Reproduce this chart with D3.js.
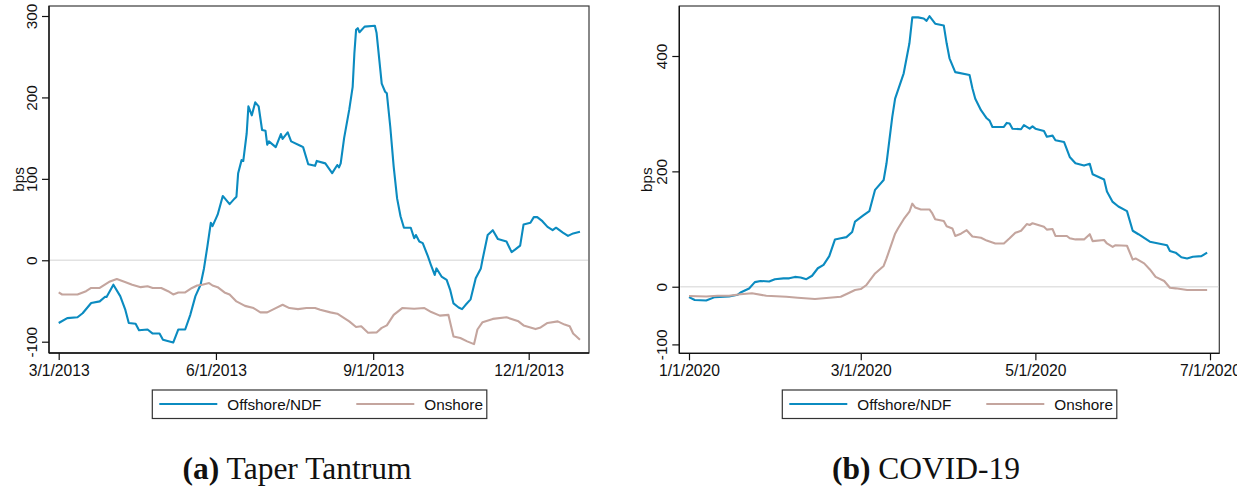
<!DOCTYPE html>
<html>
<head>
<meta charset="utf-8">
<script src="https://cdn.jsdelivr.net/npm/d3@7"></script>
<style>
  html, body { margin: 0; padding: 0; background: #fff; }
  svg { display: block; }
  .tick text, .lbl { font-family: "Liberation Sans", Arial, Helvetica, sans-serif; }
</style>
</head>
<body>
<svg id="fig" width="1249" height="489"></svg>
<script>
// ---- Series names and colours ----
const seriesNames = ["Offshore/NDF", "Onshore"];
const seriesColors = ["#0b8bc0", "#c4a59e"];

// ---- Panel (a): Taper Tantrum, 2013 ----
const taperOffDates = ["2013-03-01","2013-03-06","2013-03-12","2013-03-15","2013-03-20","2013-03-25","2013-03-28","2013-03-29","2013-04-02","2013-04-06","2013-04-09","2013-04-11","2013-04-15","2013-04-17","2013-04-22","2013-04-25","2013-04-29","2013-05-01","2013-05-07","2013-05-10","2013-05-14","2013-05-17","2013-05-20","2013-05-23","2013-05-25","2013-05-27","2013-05-29","2013-05-30","2013-06-02","2013-06-05","2013-06-09","2013-06-12","2013-06-13","2013-06-14","2013-06-16","2013-06-17","2013-06-19","2013-06-20","2013-06-22","2013-06-24","2013-06-26","2013-06-28","2013-06-30","2013-07-01","2013-07-02","2013-07-06","2013-07-09","2013-07-10","2013-07-13","2013-07-15","2013-07-21","2013-07-22","2013-07-25","2013-07-29","2013-07-30","2013-08-04","2013-08-08","2013-08-11","2013-08-12","2013-08-13","2013-08-15","2013-08-18","2013-08-20","2013-08-21","2013-08-22","2013-08-23","2013-08-24","2013-08-27","2013-09-02","2013-09-03","2013-09-06","2013-09-08","2013-09-09","2013-09-11","2013-09-13","2013-09-15","2013-09-17","2013-09-19","2013-09-23","2013-09-25","2013-09-26","2013-09-28","2013-09-30","2013-10-03","2013-10-05","2013-10-07","2013-10-08","2013-10-11","2013-10-14","2013-10-16","2013-10-18","2013-10-21","2013-10-23","2013-10-25","2013-10-28","2013-10-31","2013-11-03","2013-11-04","2013-11-07","2013-11-10","2013-11-13","2013-11-18","2013-11-21","2013-11-23","2013-11-26","2013-11-28","2013-12-02","2013-12-04","2013-12-06","2013-12-09","2013-12-12","2013-12-15","2013-12-17","2013-12-19","2013-12-21","2013-12-24","2013-12-27","2013-12-31"];
const taperOffValues = [-77,-71,-70,-65,-52.5,-50.5,-45,-45,-30,-44,-61,-77,-78,-86,-85,-90,-90,-97.5,-101,-85,-85,-67,-44,-30,-10,17,46,42,56,79,69,76,78,107,123,122,156,189,178,194,189,160,159,142,146,139,155,149,157,146,140,139,118,116,122,119,107,117,114,119,150,185,213,254,283,285,280,287,288,279,217,207,205,164,115,76,54,40,40,27,31,23,21,5,-7,-18,-10,-20,-24,-36,-53,-58,-60,-55,-48,-22,-10,1,31,37,26,23,10,13,18,44,46,53,53,48,41,37,40,37,34,30,33,35];

const taperOnDates = ["2013-03-01","2013-03-03","2013-03-12","2013-03-17","2013-03-20","2013-03-25","2013-03-31","2013-04-04","2013-04-08","2013-04-13","2013-04-18","2013-04-22","2013-04-25","2013-04-30","2013-05-04","2013-05-07","2013-05-10","2013-05-14","2013-05-18","2013-05-21","2013-05-24","2013-05-28","2013-05-30","2013-06-02","2013-06-06","2013-06-09","2013-06-13","2013-06-18","2013-06-23","2013-06-27","2013-07-01","2013-07-06","2013-07-10","2013-07-14","2013-07-19","2013-07-24","2013-07-29","2013-08-01","2013-08-07","2013-08-11","2013-08-18","2013-08-22","2013-08-25","2013-08-29","2013-09-03","2013-09-06","2013-09-09","2013-09-13","2013-09-18","2013-09-25","2013-10-01","2013-10-05","2013-10-10","2013-10-15","2013-10-18","2013-10-22","2013-10-26","2013-10-30","2013-11-01","2013-11-04","2013-11-10","2013-11-18","2013-11-25","2013-11-28","2013-12-05","2013-12-08","2013-12-12","2013-12-18","2013-12-22","2013-12-25","2013-12-27","2013-12-31"];
const taperOnValues = [-39.5,-42,-42,-38,-34,-34,-26,-23,-26,-30,-33,-32,-34,-34,-38,-42,-39.5,-39.5,-34,-31,-30,-28,-31,-33,-39.5,-42,-50.5,-56,-58.7,-64,-64,-58.7,-54.6,-58.7,-60,-58.7,-58.7,-60.7,-64,-65.6,-75,-82,-81,-89,-88.6,-83,-80,-67,-58.7,-59.5,-58.7,-63.6,-68,-67,-93.5,-95.5,-99.6,-103,-85,-76,-72,-70,-75,-80,-84.5,-82.5,-77,-75,-79,-81,-90,-97.5];

const taperXTicks = ["2013-03-01","2013-06-01","2013-09-01","2013-12-01"];
const taperYTicks = [-100, 0, 100, 200, 300];

// ---- Panel (b): COVID-19, 2020 ----
const covidOffDates = ["2020-01-01","2020-01-03","2020-01-07","2020-01-10","2020-01-15","2020-01-18","2020-01-19","2020-01-22","2020-01-24","2020-01-26","2020-01-29","2020-01-31","2020-02-03","2020-02-05","2020-02-07","2020-02-09","2020-02-11","2020-02-13","2020-02-15","2020-02-17","2020-02-19","2020-02-21","2020-02-23","2020-02-25","2020-02-27","2020-02-28","2020-03-02","2020-03-04","2020-03-06","2020-03-09","2020-03-10","2020-03-11","2020-03-12","2020-03-13","2020-03-16","2020-03-18","2020-03-19","2020-03-21","2020-03-23","2020-03-24","2020-03-25","2020-03-27","2020-03-30","2020-03-31","2020-04-01","2020-04-03","2020-04-08","2020-04-09","2020-04-10","2020-04-12","2020-04-14","2020-04-15","2020-04-16","2020-04-20","2020-04-21","2020-04-22","2020-04-23","2020-04-26","2020-04-27","2020-04-29","2020-04-30","2020-05-01","2020-05-04","2020-05-05","2020-05-07","2020-05-08","2020-05-11","2020-05-13","2020-05-15","2020-05-18","2020-05-20","2020-05-21","2020-05-25","2020-05-26","2020-05-28","2020-05-30","2020-06-02","2020-06-04","2020-06-06","2020-06-10","2020-06-16","2020-06-17","2020-06-19","2020-06-21","2020-06-23","2020-06-25","2020-06-28","2020-06-30"];
const covidOffValues = [-18,-23,-24,-18,-17,-14,-10,-3,8,10,9,13,14.5,14.5,17,16,13,19,32,38,53,82,84,86,95,113,124,131,168,185,214,254,294,326,370,422,467,467,465,461,469,456,453,422,396,372,367,344,326,306,292,288,277,277,284,283,274,273,280,274,278,274,270,260,262,254,251,225,214,210,213,195,186,165,147,139,131,97,91,78,72,62,59,51,49,52,53,59];

const covidOnDates = ["2020-01-01","2020-01-07","2020-01-11","2020-01-15","2020-01-19","2020-01-23","2020-01-28","2020-02-04","2020-02-08","2020-02-14","2020-02-19","2020-02-23","2020-02-26","2020-02-28","2020-03-01","2020-03-03","2020-03-06","2020-03-09","2020-03-10","2020-03-13","2020-03-14","2020-03-16","2020-03-18","2020-03-19","2020-03-20","2020-03-22","2020-03-25","2020-03-26","2020-03-27","2020-03-30","2020-03-31","2020-04-02","2020-04-03","2020-04-05","2020-04-07","2020-04-09","2020-04-12","2020-04-14","2020-04-17","2020-04-20","2020-04-22","2020-04-24","2020-04-26","2020-04-28","2020-04-29","2020-04-30","2020-05-04","2020-05-05","2020-05-07","2020-05-08","2020-05-12","2020-05-13","2020-05-15","2020-05-18","2020-05-20","2020-05-21","2020-05-25","2020-05-26","2020-05-28","2020-05-29","2020-06-02","2020-06-04","2020-06-05","2020-06-08","2020-06-10","2020-06-12","2020-06-15","2020-06-17","2020-06-19","2020-06-23","2020-06-26","2020-06-30"];
const covidOnValues = [-16,-17,-15.6,-15.6,-13,-11.4,-15.6,-17.3,-19,-21.3,-19,-17.3,-10.4,-5.7,-4,3,23,36,49,92,101,117,130,144,137.5,134,134,127,117,114,105,101,88,92,98,87,85,80,75,75,84,93.5,97,108.6,107,110,104,99,100,88,88,84,82,82,91,79,81,75,69,72,71,47,49,40.5,30,17,10,-1.7,-2.8,-5.7,-5.7,-5.7];

const covidXTicks = ["2020-01-01","2020-03-01","2020-05-01","2020-07-01"];
const covidYTicks = [-100, 0, 200, 400];

const captions = [["(a)", " Taper Tantrum"], ["(b)", " COVID-19"]];

// ---- Drawing ----
const parse = d3.timeParse("%Y-%m-%d");
const fmt = d3.timeFormat("%-m/%-d/%Y");
const svg = d3.select("#fig");
svg.append("rect").attr("width", 1249).attr("height", 489).attr("fill", "#fff");

svg.append("defs").append("clipPath").attr("id", "edge")
  .append("rect").attr("x", 0).attr("y", 0).attr("width", 1237).attr("height", 489);

function panel(cfg) {
  const x = d3.scaleTime().domain(cfg.xDomain.map(parse)).range(cfg.xRange);
  const y = d3.scaleLinear().domain(cfg.yDomain).range(cfg.yRange);
  const [L, R, T, B] = cfg.frame;
  const g = svg.append("g").attr("clip-path", "url(#edge)");

  // frame
  g.append("rect").attr("x", L).attr("y", T).attr("width", R - L).attr("height", B - T)
    .attr("fill", "none").attr("stroke", "#3a3a3a").attr("stroke-width", 1.2);

  // zero reference line
  g.append("line").attr("x1", L + 1).attr("x2", R - 1).attr("y1", y(0)).attr("y2", y(0))
    .attr("stroke", "#e2e2e2").attr("stroke-width", 1.6);

  // series
  const line = d3.line().x(d => x(d[0])).y(d => y(d[1]));
  cfg.series.forEach((s, i) => {
    const pts = s.dates.map((d, k) => [parse(d), s.values[k]]);
    g.append("path").datum(pts).attr("d", line)
      .attr("fill", "none").attr("stroke", seriesColors[i])
      .attr("stroke-width", 2.1).attr("stroke-linejoin", "round");
  });

  // y axis (plain hyphen for negatives)
  const ya = g.append("g").attr("transform", `translate(${L},0)`)
    .call(d3.axisLeft(y).tickValues(cfg.yTicks).tickSize(7).tickPadding(5).tickFormat(d => String(d)));
  ya.select(".domain").attr("stroke", "#111").attr("stroke-width", 1.3).attr("d", `M0,${T}V${B}`);
  ya.selectAll(".tick line").attr("stroke", "#111").attr("stroke-width", 1.2);
  ya.selectAll(".tick text")
    .attr("font-size", 15.3).attr("fill", "#111")
    .attr("transform", "rotate(-90)")
    .attr("x", 0).attr("dy", 0)
    .attr("y", -12)
    .attr("text-anchor", "middle");

  // x axis
  const xa = g.append("g").attr("transform", `translate(0,${B})`)
    .call(d3.axisBottom(x).tickValues(cfg.xTicks.map(parse)).tickSize(7).tickPadding(5).tickFormat(fmt));
  xa.select(".domain").attr("stroke", "#111").attr("stroke-width", 1.3).attr("d", `M${L},0H${R}`);
  xa.selectAll(".tick line").attr("stroke", "#111").attr("stroke-width", 1.2);
  xa.selectAll(".tick text").attr("font-size", 15.7).attr("fill", "#111").attr("dy", 0).attr("y", 23);

  // y title
  g.append("text").attr("class", "lbl")
    .attr("transform", `translate(${cfg.titleX},${(T + B) / 2}) rotate(-90)`)
    .attr("text-anchor", "middle").attr("font-size", 15.3).attr("fill", "#111").text("bps");

  // legend
  const lg = svg.append("g").attr("transform", `translate(${cfg.legend[0]},${cfg.legend[1]})`);
  lg.append("rect").attr("x", 0).attr("y", 0).attr("width", 334.5).attr("height", 28.5)
    .attr("fill", "#fff").attr("stroke", "#333").attr("stroke-width", 1.2);
  seriesNames.forEach((name, i) => {
    const ox = i * 197;
    lg.append("line").attr("x1", 7 + ox).attr("x2", 65 + ox).attr("y1", 14).attr("y2", 14)
      .attr("stroke", seriesColors[i]).attr("stroke-width", 2);
    lg.append("text").attr("class", "lbl").attr("x", 75 + ox).attr("y", 19.5)
      .attr("font-size", 15.3).attr("fill", "#111").text(name);
  });

  // caption
  const cap = svg.append("text").attr("x", cfg.captionX).attr("y", 479)
    .attr("text-anchor", "middle")
    .attr("font-family", "'Liberation Serif', 'Times New Roman', serif")
    .attr("font-size", 31.5).attr("fill", "#111");
  cap.append("tspan").attr("font-weight", "bold").text(cfg.caption[0]);
  cap.append("tspan").text(cfg.caption[1]);
}

panel({
  xDomain: ["2013-03-01", "2013-12-01"], xRange: [58.7, 528.7],
  yDomain: [-100, 300], yRange: [341.7, 16],
  frame: [49, 589, 6, 353],
  xTicks: taperXTicks, yTicks: taperYTicks,
  series: [{ dates: taperOffDates, values: taperOffValues }, { dates: taperOnDates, values: taperOnValues }],
  titleX: 24, legend: [152.3, 390], captionX: 297, caption: captions[0]
});

panel({
  xDomain: ["2020-01-01", "2020-07-01"], xRange: [689, 1210],
  yDomain: [-100, 400], yRange: [344.4, 56],
  frame: [679.3, 1219.3, 6, 353.3],
  xTicks: covidXTicks, yTicks: covidYTicks,
  series: [{ dates: covidOffDates, values: covidOffValues }, { dates: covidOnDates, values: covidOnValues }],
  titleX: 652, legend: [782.3, 390], captionX: 926, caption: captions[1]
});
</script>
</body>
</html>
